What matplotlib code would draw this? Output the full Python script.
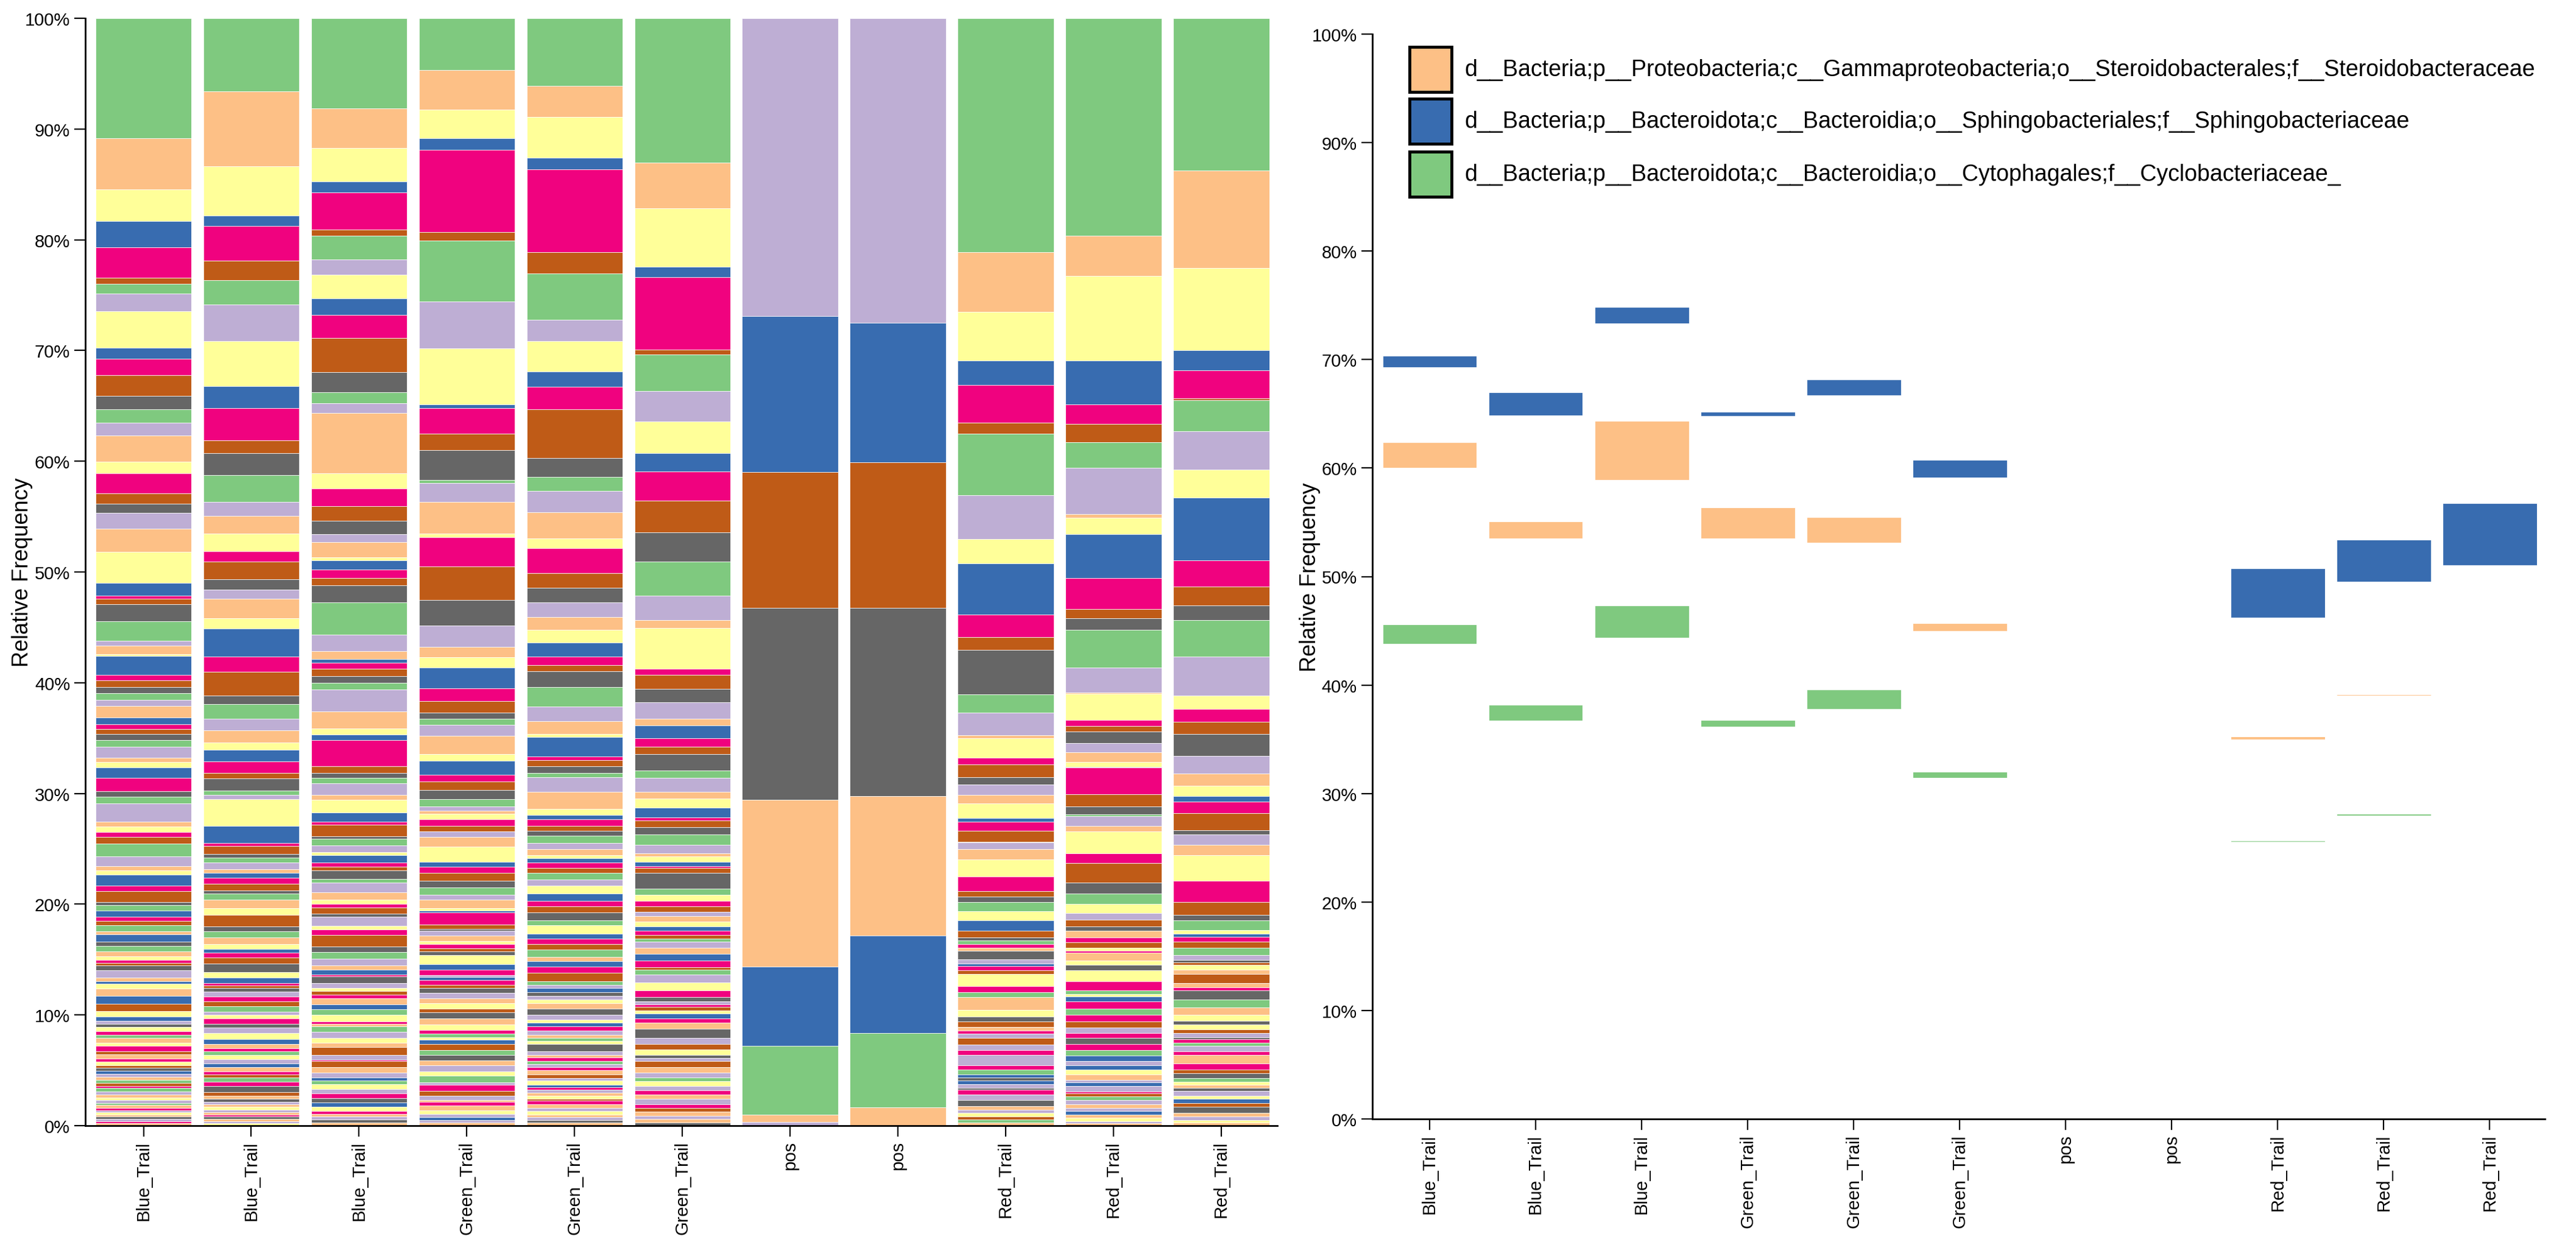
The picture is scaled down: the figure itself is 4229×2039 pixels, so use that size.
import matplotlib
matplotlib.use("Agg")
import matplotlib.pyplot as plt
from matplotlib.patches import Rectangle

plt.rcParams['font.family'] = ['Liberation Sans', 'DejaVu Sans']

# Accent-like taxa palette (code -> colour)
PALETTE = {"G": "#7fc97f", "L": "#beaed4", "O": "#fdc086", "Y": "#ffff99",
           "B": "#386cb0", "P": "#f0027f", "R": "#bf5b17", "K": "#666666"}

samples = ["Blue_Trail", "Blue_Trail", "Blue_Trail",
           "Green_Trail", "Green_Trail", "Green_Trail",
           "pos", "pos",
           "Red_Trail", "Red_Trail", "Red_Trail"]

# Each stack: (taxon colour code, cumulative top of segment in %), top -> bottom
BLUE_1 = [("G",100),("O",89.18),("Y",84.55),("B",81.67),("P",79.32),("R",76.55),("G",76.03),("L",75.15),("Y",73.53),("B",70.24),
          ("P",69.26),("R",67.78),("K",65.92),("G",64.7),("L",63.47),("O",62.31),("Y",59.96),("P",58.91),("R",57.12),("K",56.17),
          ("L",55.33),("O",53.93),("Y",51.79),("B",49.02),("P",47.86),("R",47.6),("K",47.08),("G",45.55),("L",43.79),("O",43.33),
          ("Y",42.57),("B",42.4),("P",40.73),("R",40.2),("K",39.62),("G",39.05),("L",38.44),("O",37.9),("B",36.83),("P",36.26),
          ("R",35.8),("K",35.38),("G",34.84),("L",34.23),("O",33.24),("Y",32.82),("B",32.32),("P",31.4),("K",30.21),("G",29.72),
          ("L",29.1),("O",27.46),("Y",27.0),("P",26.5),("R",26.05),("G",25.47),("L",24.29),("O",23.45),("Y",23.07),("B",22.68),
          ("P",21.65),("R",21.15),("K",20.2),("G",19.93),("B",19.43),("P",18.86),("R",18.47),("G",18.09),("O",17.52),("B",17.25),
          ("K",16.6),("G",16.23),("O",15.75),("Y",15.3),("P",14.95),("R",14.7),("K",14.45),("L",14.05),("O",13.37),("B",13.05),
          ("Y",12.8),("O",12.4),("B",11.7),("R",10.98),("Y",10.36),("B",9.84),("L",9.48),("K",9.2),("Y",8.9),("P",8.55),
          ("G",8.19),("O",7.9),("Y",7.5),("P",7.18),("R",6.72),("O",6.45),("P",6.05),("Y",5.8),("R",5.45),("K",5.22),
          ("B",4.95),("L",4.7),("O",4.4),("G",4.1),("R",3.85),("P",3.6),("G",3.4),("L",3.1),("O",2.8),("Y",2.55),
          ("L",2.3),("G",2.05),("O",1.85),("P",1.6),("L",1.4),("Y",1.2),("O",1.0),("K",0.8),("L",0.6),("P",0.4),("O",0.2)]

BLUE_2 = [("G",100),("O",93.39),("Y",86.62),("B",82.16),("P",81.25),("R",78.13),("G",76.34),("L",74.17),("Y",70.83),("B",66.8),
          ("P",64.77),("R",61.89),("K",60.73),("G",58.73),("L",56.35),("O",55.05),("Y",53.47),("P",51.89),("R",50.91),("K",49.33),
          ("L",48.39),("O",47.6),("Y",45.82),("B",44.86),("P",42.38),("R",40.96),("K",38.82),("G",38.09),("L",36.72),("O",35.68),
          ("Y",34.61),("B",33.96),("P",32.89),("R",31.86),("K",31.36),("G",30.25),("L",29.87),("Y",29.49),("B",27.08),("P",25.55),
          ("R",25.24),("K",24.52),("G",24.21),("L",23.75),("O",23.14),("B",22.8),("P",22.38),("R",21.84),("K",21.23),("G",20.96),
          ("O",20.39),("Y",19.63),("R",19.05),("K",17.98),("G",17.52),("O",17.02),("Y",16.37),("B",15.95),("P",15.62),("R",15.17),
          ("K",14.61),("Y",13.88),("B",13.35),("P",12.87),("R",12.65),("K",12.41),("L",12.1),("P",11.68),("R",11.2),("G",10.76),
          ("L",10.3),("Y",10.0),("P",9.66),("K",9.2),("L",8.85),("Y",8.37),("B",7.83),("O",7.37),("P",7.0),("G",6.69),
          ("Y",6.4),("L",5.99),("B",5.6),("O",5.3),("P",4.9),("R",4.6),("G",4.34),("P",3.95),("K",3.6),("R",3.05),
          ("O",2.7),("K",2.4),("L",2.15),("O",1.95),("Y",1.7),("L",1.45),("O",1.2),("P",1.0),("K",0.8),("O",0.6),
          ("L",0.4),("Y",0.2)]

BLUE_3 = [("G",100),("O",91.88),("Y",88.27),("B",85.28),("P",84.27),("R",80.94),("G",80.37),("L",78.2),("Y",76.87),("B",74.69),
          ("P",73.22),("R",71.11),("K",68.03),("G",66.2),("L",65.22),("O",64.35),("Y",58.91),("P",57.51),("R",55.93),("K",54.6),
          ("L",53.4),("O",52.7),("Y",51.3),("B",51.02),("P",50.21),("R",49.44),("K",48.81),("G",47.26),("L",44.36),("O",42.87),
          ("B",42.11),("P",41.8),("R",41.23),("K",40.58),("G",39.97),("L",39.39),("O",37.4),("Y",35.87),("B",35.3),("P",34.8),
          ("R",32.43),("K",31.86),("G",31.4),("L",30.9),("O",29.87),("Y",29.45),("B",28.3),("P",27.46),("R",27.19),("K",26.12),
          ("G",25.93),("L",25.28),("Y",24.67),("B",24.4),("P",23.75),("R",23.37),("K",23.06),("G",22.3),("L",21.92),("O",21.08),
          ("Y",20.39),("P",20.0),("R",19.7),("K",19.12),("L",18.86),("Y",18.02),("P",17.71),("R",17.21),("K",16.17),("G",15.66),
          ("L",15.07),("O",14.47),("B",14.1),("P",13.66),("K",13.47),("L",12.87),("Y",12.41),("R",12.14),("P",11.8),("O",11.5),
          ("B",10.94),("G",10.49),("Y",10.03),("P",9.4),("O",9.2),("G",8.95),("L",8.47),("Y",7.92),("O",7.5),("R",7.09),
          ("L",6.36),("P",5.95),("R",5.81),("O",5.29),("L",4.8),("B",4.34),("G",4.07),("Y",3.75),("L",3.3),("P",2.9),
          ("K",2.5),("B",2.1),("Y",1.68),("P",1.3),("O",1.05),("L",0.8),("K",0.55),("O",0.3)]

GREEN_1 = [("G",100),("O",95.32),("Y",91.77),("B",89.14),("P",88.13),("R",80.72),("G",79.95),("L",74.41),("Y",70.2),("B",65.15),
           ("P",64.77),("R",62.49),("K",61.01),("G",58.31),("L",58.03),("O",56.35),("Y",53.47),("P",53.12),("R",50.49),("K",47.46),
           ("L",45.17),("O",43.26),("Y",42.3),("B",41.34),("P",39.51),("R",38.36),("K",37.29),("G",36.72),("L",36.18),("O",35.22),
           ("Y",33.58),("B",32.93),("P",31.67),("R",31.09),("K",30.33),("G",29.49),("L",28.8),("O",28.42),("Y",28.15),("P",27.65),
           ("R",27.08),("L",26.58),("O",26.05),("Y",25.17),("B",23.83),("P",23.37),("R",22.8),("K",22.11),("G",21.53),("L",20.84),
           ("O",20.39),("Y",19.63),("B",19.43),("P",19.24),("R",18.17),("K",17.78),("L",17.6),("O",17.14),("Y",16.64),("P",16.37),
           ("R",16.0),("K",15.72),("Y",15.38),("B",14.6),("P",14.06),("L",13.6),("B",13.4),("P",13.15),("R",12.69),("K",12.41),
           ("L",12.01),("O",11.5),("Y",11.04),("R",10.58),("K",10.21),("O",9.7),("Y",9.11),("P",8.65),("G",8.28),("Y",8.0),
           ("B",7.73),("R",7.37),("G",6.82),("K",6.36),("O",5.9),("L",5.44),("Y",4.89),("G",4.52),("L",3.88),("P",3.7),
           ("R",3.15),("L",2.7),("O",2.32),("P",2.17),("O",1.8),("Y",1.4),("L",1.04),("B",0.75),("L",0.49),("O",0.25)]

GREEN_2 = [("G",100),("O",93.91),("Y",91.07),("B",87.39),("P",86.37),("R",78.9),("G",76.97),("L",72.76),("Y",70.83),("B",68.1),
           ("P",66.7),("R",64.7),("K",60.31),("G",58.56),("L",57.33),("O",55.4),("Y",53.02),("P",52.14),("R",49.89),("K",48.56),
           ("L",47.23),("O",45.93),("Y",44.78),("B",43.6),("P",42.38),("R",41.61),("K",41.04),("G",39.58),("L",37.86),("O",36.53),
           ("Y",35.38),("B",35.11),("P",33.31),("R",33.01),("K",32.43),("G",31.86),("L",31.48),("O",30.14),("Y",28.61),("B",28.04),
           ("P",27.65),("R",27.08),("K",26.62),("G",26.2),("L",25.55),("O",24.97),("Y",24.4),("B",24.13),("P",23.75),("R",23.25),
           ("G",22.8),("L",22.22),("Y",21.65),("B",20.96),("P",20.31),("R",19.81),("K",19.24),("G",18.55),("Y",18.09),("B",17.33),
           ("P",16.87),("R",16.37),("G",15.91),("O",15.22),("B",14.84),("P",14.34),("R",13.79),("G",13.05),("L",12.7),("B",12.41),
           ("K",12.04),("L",11.7),("Y",11.4),("O",11.04),("K",10.58),("L",10.03),("Y",9.57),("B",9.29),("P",8.96),("L",8.6),
           ("O",8.19),("G",7.9),("Y",7.64),("K",7.37),("L",6.72),("O",6.4),("P",6.17),("G",5.85),("L",5.53),("P",5.29),
           ("O",5.0),("R",4.61),("L",4.3),("Y",4.07),("B",3.7),("P",3.45),("L",3.24),("O",2.95),("Y",2.69),("R",2.4),
           ("P",2.23),("O",1.9),("L",1.6),("Y",1.3),("O",1.0),("L",0.75),("K",0.5),("O",0.25)]

GREEN_3 = [("G",100),("O",86.97),("Y",82.86),("B",77.57),("P",76.62),("R",70.06),("G",69.61),("L",66.34),("Y",63.57),("B",60.73),
           ("P",59.08),("R",56.45),("K",53.58),("G",50.91),("L",47.84),("O",45.63),("Y",44.94),("P",41.23),("R",40.73),("K",39.43),
           ("L",38.25),("O",36.75),("B",36.14),("P",34.99),("R",34.23),("K",33.58),("G",32.05),("L",31.4),("O",30.14),("Y",29.56),
           ("B",28.72),("P",27.85),("R",27.54),("K",26.96),("G",26.31),("L",25.36),("O",24.59),("Y",24.29),("B",23.83),("P",23.45),
           ("R",23.25),("K",22.8),("G",21.42),("Y",20.84),("P",20.31),("R",19.8),("L",19.3),("O",18.9),("Y",18.4),("B",18.0),
           ("P",17.6),("R",17.22),("G",16.9),("L",16.63),("O",16.08),("B",15.53),("P",14.89),("R",14.28),("G",14.06),("L",13.66),
           ("Y",12.93),("P",12.23),("K",11.59),("L",11.22),("P",10.94),("R",10.7),("Y",10.39),("B",10.1),("P",9.66),("O",9.29),
           ("K",8.74),("L",7.92),("R",7.37),("Y",6.9),("K",6.36),("L",6.1),("R",5.81),("O",5.29),("L",4.8),("G",4.34),
           ("Y",4.0),("L",3.6),("P",3.2),("O",2.8),("L",2.4),("P",1.95),("R",1.6),("O",1.25),("L",0.9),("O",0.6),("K",0.3)]

POS_1 = [("L",100),("B",73.11),("R",59.01),("K",46.77),("O",29.45),("B",14.38),("G",7.19),("O",1.0),("L",0.31)]
POS_2 = [("L",100),("B",72.48),("R",59.89),("K",46.77),("O",29.76),("B",17.14),("G",8.34),("O",1.64)]

RED_1 = [("G",100),("O",78.9),("Y",73.46),("B",69.08),("P",66.91),("R",63.47),("G",62.49),("L",56.91),("Y",52.95),("B",50.77),
         ("P",46.16),("R",44.1),("K",42.95),("G",38.93),("L",37.29),("O",35.24),("Y",34.97),("P",33.2),("R",32.62),("K",31.48),
         ("L",30.83),("O",29.87),("Y",29.1),("B",27.77),("P",27.46),("R",26.62),("G",25.66),("L",25.56),("O",24.97),("Y",24.02),
         ("P",22.49),("R",21.15),("K",20.69),("G",20.2),("Y",19.35),("B",18.55),("R",17.6),("K",17.0),("G",16.72),("P",16.4),
         ("O",16.08),("K",15.8),("L",15.02),("B",14.61),("P",14.43),("R",14.0),("Y",13.7),("P",12.6),("G",12.04),("O",11.59),
         ("Y",10.43),("K",9.84),("R",9.39),("O",8.93),("P",8.6),("L",8.28),("R",7.9),("L",7.31),("P",6.82),("L",6.36),
         ("P",5.44),("G",5.07),("B",4.61),("K",4.34),("B",4.07),("L",3.75),("K",3.4),("P",3.24),("L",2.8),("K",2.32),
         ("O",1.77),("L",1.45),("Y",1.15),("R",0.85),("G",0.55),("O",0.3)]

RED_2 = [("G",100),("O",80.37),("Y",76.73),("B",69.08),("P",65.12),("R",63.36),("G",61.71),("L",59.43),("O",55.23),("Y",54.88),
         ("B",53.4),("P",49.44),("R",46.66),("K",45.82),("G",44.78),("L",41.34),("O",39.12),("Y",39.02),("P",36.64),("R",36.07),
         ("K",35.61),("L",34.54),("O",33.7),("Y",32.82),("B",32.4),("P",32.32),("R",29.95),("K",28.8),("G",28.13),("L",27.94),
         ("O",27.08),("Y",26.58),("P",24.59),("R",23.71),("K",21.92),("G",20.96),("Y",20.0),("L",19.2),("R",18.6),("K",18.0),
         ("O",17.6),("P",17.0),("R",16.54),("Y",16.08),("P",15.8),("O",15.62),("Y",14.89),("K",14.52),("Y",14.03),("P",13.05),
         ("G",12.23),("Y",11.9),("B",11.68),("P",11.22),("G",10.58),("P",10.03),("R",9.39),("L",8.83),("P",8.37),("K",7.92),
         ("P",7.37),("G",6.82),("B",6.3),("L",5.81),("B",5.44),("Y",5.07),("O",4.6),("L",4.15),("B",3.9),("L",3.6),
         ("P",3.1),("R",2.9),("G",2.65),("L",2.32),("O",1.95),("L",1.59),("B",1.3),("O",1.0),("Y",0.7),("L",0.4),("O",0.2)]

RED_3 = [("G",100),("O",86.27),("Y",77.43),("B",70.03),("P",68.2),("R",65.68),("G",65.5),("L",62.7),("Y",59.26),("B",56.73),
         ("P",51.02),("R",48.67),("K",46.98),("G",45.63),("L",42.38),("Y",38.86),("P",37.6),("R",36.45),("K",35.38),("L",33.39),
         ("O",31.78),("Y",30.71),("B",29.76),("P",29.26),("R",28.23),("K",26.7),("L",26.32),("O",25.36),("Y",24.4),("P",22.11),
         ("R",20.2),("K",19.05),("G",18.55),("Y",17.63),("B",17.3),("P",17.04),("R",16.63),("G",16.08),("L",15.38),("K",14.98),
         ("R",14.75),("Y",14.52),("O",14.1),("R",13.7),("O",12.87),("P",12.5),("K",12.19),("G",11.4),("O",10.67),("Y",9.99),
         ("K",9.48),("Y",9.11),("R",8.7),("L",8.37),("K",8.0),("P",7.83),("G",7.5),("L",7.18),("P",6.7),("O",6.36),
         ("P",5.63),("R",5.07),("K",4.71),("G",4.3),("Y",3.97),("O",3.7),("K",3.42),("L",3.15),("Y",2.7),("B",2.4),
         ("R",2.05),("K",1.7),("O",1.13),("L",0.8),("Y",0.5),("O",0.25)]

STACKS = [BLUE_1, BLUE_2, BLUE_3, GREEN_1, GREEN_2, GREEN_3, POS_1, POS_2, RED_1, RED_2, RED_3]

# Right panel: highlighted taxa, lower / upper edges (% position within stack)
legend_labels = ["d__Bacteria;p__Proteobacteria;c__Gammaproteobacteria;o__Steroidobacterales;f__Steroidobacteraceae",
                 "d__Bacteria;p__Bacteroidota;c__Bacteroidia;o__Sphingobacteriales;f__Sphingobacteriaceae",
                 "d__Bacteria;p__Bacteroidota;c__Bacteroidia;o__Cytophagales;f__Cyclobacteriaceae_"]
legend_codes = ["O", "B", "G"]
steroido_low  = [60.0, 53.53, 58.9, 53.53, 53.1, 45.0, None, None, 34.97, 39.02, None]
steroido_high = [62.39, 55.07, 64.35, 56.36, 55.46, 45.71, None, None, 35.24, 39.12, None]
sphingo_low   = [69.29, 64.83, 73.34, 64.81, 66.71, 59.12, None, None, 46.22, 49.52, 51.06]
sphingo_high  = [70.37, 66.96, 74.85, 65.17, 68.15, 60.76, None, None, 50.77, 53.38, 56.75]
cyclo_low     = [43.80, 36.72, 44.34, 36.18, 37.78, 31.42, None, None, 25.56, 27.94, None]
cyclo_high    = [45.59, 38.17, 47.31, 36.76, 39.58, 32.0, None, None, 25.67, 28.13, None]

W, H = 4229, 2040
fig = plt.figure(figsize=(W / 100, H / 100), dpi=100)


def px_axes(x0, y0, x1, y1):
    return fig.add_axes([x0 / W, 1 - y1 / H, (x1 - x0) / W, (y1 - y0) / H])


ax1 = px_axes(140, 31, 2097, 1849)
ax2 = px_axes(2253, 57, 4178, 1838)

BAR_W = 0.89
for i, segs in enumerate(STACKS):
    tops = [t for _, t in segs]
    bottoms = tops[1:] + [0.0]
    heights = [t - b for t, b in zip(tops, bottoms)]
    cols = [PALETTE[c] for c, _ in segs]
    ax1.bar([i] * len(segs), heights, bottom=bottoms, width=BAR_W, color=cols,
            edgecolor="white", linewidth=0.55)

for lows, highs, code in [(steroido_low, steroido_high, "O"),
                          (sphingo_low, sphingo_high, "B"),
                          (cyclo_low, cyclo_high, "G")]:
    for i, (lo, hi) in enumerate(zip(lows, highs)):
        if lo is None:
            continue
        ax2.bar(i, hi - lo, bottom=lo, width=BAR_W, color=PALETTE[code],
                edgecolor="white", linewidth=0.8)

for ax in (ax1, ax2):
    ax.set_xlim(-0.54, 10.52)
    ax.set_ylim(0, 100)
    ax.spines["top"].set_visible(False)
    ax.spines["right"].set_visible(False)
    ax.spines["left"].set_linewidth(2.0)
    ax.spines["bottom"].set_linewidth(2.0)
    ax.set_yticks(range(0, 101, 10))
    ax.set_yticklabels([f"{v}%" for v in range(0, 101, 10)])
    ax.set_xticks(range(len(samples)))
    ax.set_xticklabels(samples, rotation=90)
    ax.tick_params(axis="both", length=13, width=1.6, labelsize=21, pad=5, colors="black")
    ax.text(-0.053, 0.5, "Relative Frequency", transform=ax.transAxes, rotation=90,
            ha="center", va="center", fontsize=26)

# legend in right panel (pixel positions)
sw_tops = [78, 163, 250]
for top, code, label in zip(sw_tops, legend_codes, legend_labels):
    fig.add_artist(Rectangle((2314 / W, 1 - (top + 74) / H), 69 / W, 74 / H,
                             transform=fig.transFigure, facecolor=PALETTE[code],
                             edgecolor="black", linewidth=3.5))
    fig.text(2404 / W, 1 - (top + 37) / H, label, ha="left", va="center", fontsize=27)

fig.savefig("out.png", dpi=100, facecolor="white")
